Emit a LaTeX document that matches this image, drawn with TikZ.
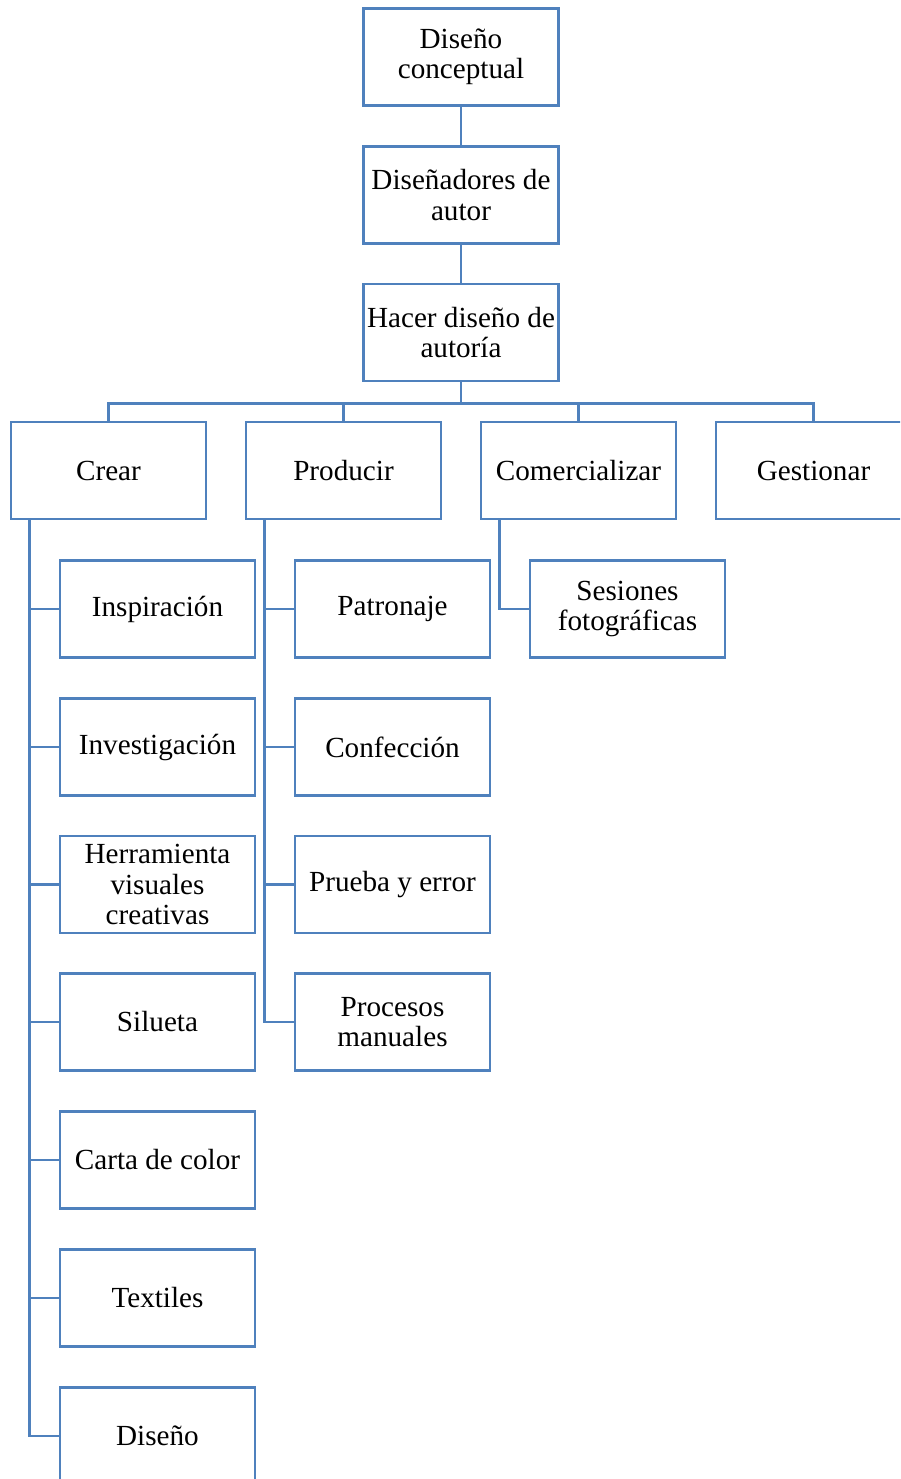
\documentclass[tikz,border=0pt]{standalone}
\usepackage{fontspec}
\setmainfont{Liberation Serif}
\usetikzlibrary{positioning}
\definecolor{steel}{HTML}{4F81BD}

\begin{document}
\begin{tikzpicture}[
  font=\fontsize{16.6}{17.3}\selectfont,
  block/.style={draw=steel, line width=1.5pt, fill=white, text=black,
                minimum width=3.9cm, minimum height=1.94cm,
                inner sep=1pt, align=center},
  link/.style={draw=steel, line width=1.5pt}
]
\clip (0,0) rectangle (18,-29.58);

% top chain
\node[block] (concept) at (9.22,-1.14) {Diseño\\conceptual};
\node[block] (autor) at (9.22,-3.90) {Diseñadores de\\autor};
\node[block] (autoria) at (9.22,-6.65) {Hacer diseño de\\autoría};
\draw[link] (concept) -- (autor);
\draw[link] (autor) -- (autoria);

% second level
\node[block] (crear) at (2.17,-9.41) {Crear};
\node[block] (producir) at (6.87,-9.41) {Producir};
\node[block] (comercial) at (11.57,-9.41) {Comercializar};
\node[block] (gestion) at (16.27,-9.41) {Gestionar};
\draw[link] (autoria.south) -- ++(0,-0.42) -| (crear.north);
\draw[link] (autoria.south) -- ++(0,-0.42) -| (producir.north);
\draw[link] (autoria.south) -- ++(0,-0.42) -| (comercial.north);
\draw[link] (autoria.south) -- ++(0,-0.42) -| (gestion.north);

% crear
\node[block] (inspira) at (3.15,-12.18) {Inspiración};
\node[block] (investiga) at (3.15,-14.94) {Investigación};
\node[block] (herram) at (3.15,-17.69) {Herramienta\\visuales\\creativas};
\node[block] (silueta) at (3.15,-20.44) {Silueta};
\node[block] (carta) at (3.15,-23.20) {Carta de color};
\node[block] (textil) at (3.15,-25.96) {Textiles};
\node[block] (diseno) at (3.15,-28.72) {Diseño};
\draw[link] ([xshift=0.4cm]crear.south west) |- (inspira.west);
\draw[link] ([xshift=0.4cm]crear.south west) |- (investiga.west);
\draw[link] ([xshift=0.4cm]crear.south west) |- (herram.west);
\draw[link] ([xshift=0.4cm]crear.south west) |- (silueta.west);
\draw[link] ([xshift=0.4cm]crear.south west) |- (carta.west);
\draw[link] ([xshift=0.4cm]crear.south west) |- (textil.west);
\draw[link] ([xshift=0.4cm]crear.south west) |- (diseno.west);

% producir
\node[block] (patron) at (7.85,-12.18) {Patronaje};
\node[block] (confec) at (7.85,-14.94) {Confección};
\node[block] (prueba) at (7.85,-17.69) {Prueba y error};
\node[block] (manual) at (7.85,-20.44) {Procesos\\manuales};
\draw[link] ([xshift=0.4cm]producir.south west) |- (patron.west);
\draw[link] ([xshift=0.4cm]producir.south west) |- (confec.west);
\draw[link] ([xshift=0.4cm]producir.south west) |- (prueba.west);
\draw[link] ([xshift=0.4cm]producir.south west) |- (manual.west);

% comercializar
\node[block] (sesion) at (12.55,-12.18) {Sesiones\\fotográficas};
\draw[link] ([xshift=0.4cm]comercial.south west) |- (sesion.west);

\end{tikzpicture}
\end{document}
